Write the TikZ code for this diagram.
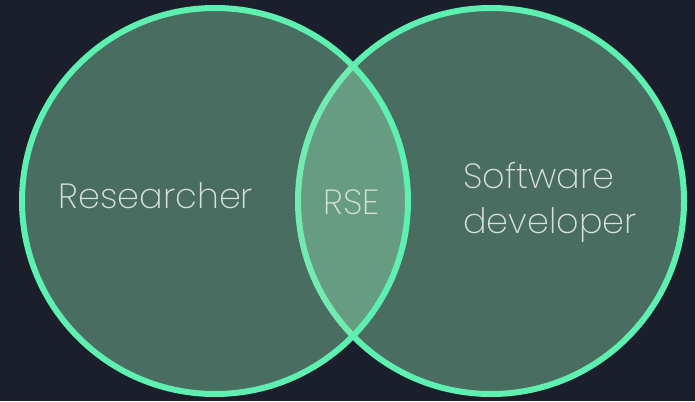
\documentclass[tikz,border=0pt]{standalone}
\usepackage{fontspec}
\newfontfamily\thinfont{Poppins ExtraLight}
\usetikzlibrary{positioning,calc}
\definecolor{bgdark}{HTML}{1A1F2B}
\definecolor{mint}{HTML}{5EF0B0}
\definecolor{setfill}{HTML}{92E4B4}
\definecolor{labelgrey}{HTML}{D8E0DC}
\tikzset{
  set/.style={circle,draw=mint,line width=6pt,fill=setfill,fill opacity=0.4,
    minimum size=386pt,inner sep=0pt},
  setlabel/.style={text=labelgrey,font=\thinfont\fontsize{35}{45}\selectfont,inner sep=0pt}
}
\begin{document}
\begin{tikzpicture}[x=1pt,y=-1pt]
		% draw background
		\fill[bgdark] (0,0) rectangle (695,401);
		\useasboundingbox (0,0) rectangle (695,401);
		% draw sets
		\node[set] (developer) at (491,201) {};
		\node[set] (researcher) at (215,201) {};
		% draw labels
		\node[setlabel,anchor=base] (reslabel) at (156,208) {Researcher};
		\node[setlabel,anchor=base] (rselabel) at (352,214) {RSE};
		\node[setlabel,anchor=north west,align=left] (devlabel) at (463,162) {Software\\developer};
\end{tikzpicture}
\end{document}
